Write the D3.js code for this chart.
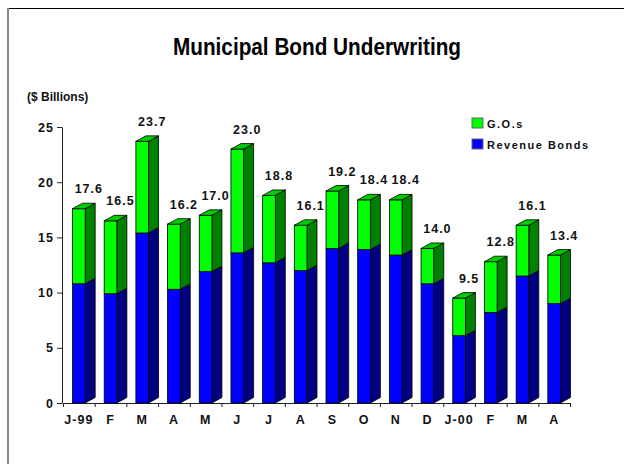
<!DOCTYPE html>
<html>
<head>
<meta charset="utf-8">
<script src="https://cdn.jsdelivr.net/npm/d3@7"></script>
<style>
  html, body { margin: 0; padding: 0; background: #fff; }
  svg { display: block; }
  .lbl { font-family: "Liberation Sans", Arial, sans-serif; font-weight: bold; font-size: 12.5px; letter-spacing: 1px; fill: #111; }
  .title { font-family: "Liberation Sans Narrow", "Arial Narrow", "Liberation Sans", sans-serif; font-weight: bold; font-size: 24px; fill: #000; }
</style>
</head>
<body>
<script>
// Monthly municipal bond underwriting, $ billions
const months = ["J-99", "F", "M", "A", "M", "J", "J", "A", "S", "O", "N", "D", "J-00", "F", "M", "A"];
const totals = [17.6, 16.5, 23.7, 16.2, 17.0, 23.0, 18.8, 16.1, 19.2, 18.4, 18.4, 14.0, 9.5, 12.8, 16.1, 13.4];
const revenueBonds = [10.8, 9.9, 15.4, 10.3, 11.9, 13.6, 12.7, 12.0, 14.0, 13.9, 13.4, 10.8, 6.1, 8.2, 11.5, 9.0];
const yTicks = [0, 5, 10, 15, 20, 25];
const seriesNames = ["G.O.s", "Revenue Bonds"];

const W = 624, H = 464;
const svg = d3.select("body").append("svg").attr("width", W).attr("height", H);

// outer frame
svg.append("line").attr("x1", 8).attr("x2", W).attr("y1", 8.5).attr("y2", 8.5)
  .attr("stroke", "#000").attr("stroke-width", 1);
svg.append("line").attr("x1", 8).attr("x2", 8).attr("y1", 8).attr("y2", H)
  .attr("stroke", "#888").attr("stroke-width", 2);

// condensed title: squeeze to the narrow face width
svg.append("text").attr("class", "title")
  .attr("x", 173).attr("y", 54.5)
  .attr("textLength", 288).attr("lengthAdjust", "spacingAndGlyphs")
  .text("Municipal Bond Underwriting");

svg.append("text").attr("class", "lbl").style("letter-spacing", "0px").style("font-size", "12px")
  .attr("x", 27).attr("y", 101).text("($ Billions)");

const idx = d3.range(months.length);
const x = d3.scaleBand().domain(idx).range([63, 570]);
const y = d3.scaleLinear().domain([0, 25]).range([403, 127]);
const xb = d3.scaleLinear().domain([0, months.length]).range([63, 570]);

const bw = x.bandwidth();
const fw = bw * 0.4;          // front face width
const dx = 10, dy = 5.5;      // depth offset

const colors = {
  go:  { front: "#00ff00", side: "#008000", top: "#00cc00" },
  rev: { front: "#0000ff", side: "#000080", top: "#0000c0" }
};

// axes
const yAxis = svg.append("g").attr("transform", "translate(62,0)")
  .call(d3.axisLeft(y).tickValues(yTicks).tickSize(5).tickSizeOuter(0).tickPadding(3));
yAxis.selectAll("text").attr("class", "lbl").attr("fill", null);

const xTicks = svg.append("g").attr("transform", "translate(0,403)")
  .call(d3.axisBottom(xb).tickValues(d3.range(months.length + 1)).tickSize(4).tickSizeOuter(0).tickFormat(""));
const xLabels = svg.append("g").attr("transform", "translate(0,403)")
  .call(d3.axisBottom(x).tickSize(0).tickPadding(12).tickFormat(i => months[i]));
xLabels.select(".domain").remove();
xLabels.selectAll("text").attr("class", "lbl").attr("fill", null);
svg.selectAll(".domain, .tick line").attr("stroke", "#222");

// 3D stacked bars
const bars = svg.append("g");
idx.forEach(i => {
  const x0 = x(i) + (bw - fw) / 2, x1 = x0 + fw;
  const segs = [
    { lo: 0, hi: revenueBonds[i], c: colors.rev },
    { lo: revenueBonds[i], hi: totals[i], c: colors.go }
  ];
  segs.forEach((s, k) => {
    const yl = y(s.lo), yh = y(s.hi);
    bars.append("polygon")
      .attr("points", [[x1, yl], [x1 + dx, yl - dy], [x1 + dx, yh - dy], [x1, yh]].join(" "))
      .attr("fill", s.c.side).attr("stroke", "#000").attr("stroke-width", 0.8).attr("stroke-linejoin", "round");
    bars.append("rect")
      .attr("x", x0).attr("y", yh).attr("width", fw).attr("height", yl - yh)
      .attr("fill", s.c.front).attr("stroke", "#000").attr("stroke-width", 0.8);
    if (k === segs.length - 1) {
      bars.append("polygon")
        .attr("points", [[x0, yh], [x0 + dx, yh - dy], [x1 + dx, yh - dy], [x1, yh]].join(" "))
        .attr("fill", s.c.top).attr("stroke", "#000").attr("stroke-width", 0.8).attr("stroke-linejoin", "round");
    }
  });
  bars.append("text").attr("class", "lbl")
    .attr("x", x0 + fw / 2 + dx).attr("y", y(totals[i]) - dy - 10)
    .attr("text-anchor", "middle")
    .text(totals[i].toFixed(1));
});

// legend
const legend = svg.append("g");
[colors.go, colors.rev].forEach((c, k) => {
  legend.append("rect").attr("x", 472).attr("y", 118 + k * 21).attr("width", 11).attr("height", 10)
    .attr("fill", c.front).attr("stroke", "#666").attr("stroke-width", 1);
  legend.append("text").attr("class", "lbl")
    .style("font-size", "11px").style("letter-spacing", "1.5px")
    .attr("x", 487).attr("y", 128 + k * 21).text(seriesNames[k]);
});
</script>
</body>
</html>
